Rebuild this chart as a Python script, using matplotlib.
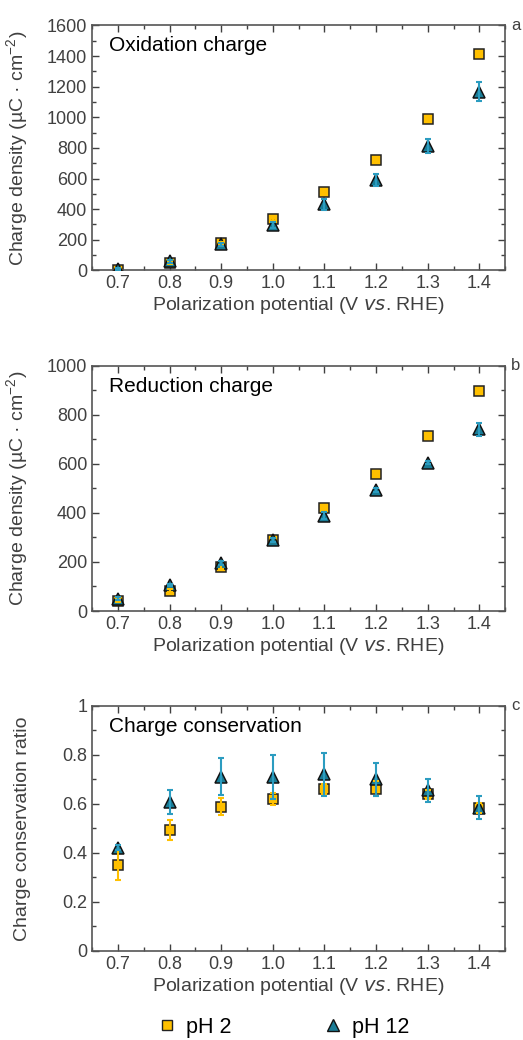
import matplotlib

matplotlib.use("Agg")
import matplotlib.pyplot as plt
from matplotlib.ticker import MultipleLocator
from matplotlib.lines import Line2D

plt.rcParams["font.family"] = ["Liberation Sans", "DejaVu Sans"]

# potentials (V vs. RHE)
potential = [0.7, 0.8, 0.9, 1.0, 1.1, 1.2, 1.3, 1.4]

# panel a : oxidation charge (uC cm-2)
ox_ph2 = [5, 50, 178, 337, 509, 718, 990, 1410]
ox_ph2_err = [5, 8, 10, 12, 12, 12, 15, 15]
ox_ph12 = [8, 60, 170, 294, 431, 592, 812, 1165]
ox_ph12_err = [8, 10, 12, 20, 35, 40, 48, 62]

# panel b : reduction charge (uC cm-2)
red_ph2 = [42, 83, 178, 291, 421, 560, 713, 898]
red_ph2_err = [5, 6, 8, 8, 10, 10, 10, 10]
red_ph12 = [51, 106, 196, 291, 389, 492, 606, 741]
red_ph12_err = [5, 6, 8, 8, 15, 8, 8, 26]

# panel c : charge conservation ratio
cons_ph2 = [0.351, 0.493, 0.588, 0.621, 0.662, 0.662, 0.639, 0.584]
cons_ph2_err = [0.062, 0.04, 0.035, 0.025, 0.02, 0.03, 0.02, 0.02]
cons_ph12 = [0.421, 0.609, 0.711, 0.711, 0.721, 0.701, 0.656, 0.584]
cons_ph12_err = [0.01, 0.05, 0.076, 0.09, 0.087, 0.068, 0.046, 0.047]

YELLOW = "#FFC000"
TEAL = "#1A7C96"
TEAL_ERR = "#2B9CC0"
GREY = "#404040"

fig = plt.figure(figsize=(5.23, 10.4), dpi=100)
left, width, height = 0.176, 0.79, 0.2356
bottoms = [0.740, 0.4125, 0.0856]

density_label = "Charge density (µC · cm$^{\\mathregular{-2}}$)"
panels = [
    (ox_ph2, ox_ph2_err, ox_ph12, ox_ph12_err, "Oxidation charge", (0, 1600), 200, 100,
     density_label, "a"),
    (red_ph2, red_ph2_err, red_ph12, red_ph12_err, "Reduction charge", (0, 1000), 200, 100,
     density_label, "b"),
    (cons_ph2, cons_ph2_err, cons_ph12, cons_ph12_err, "Charge conservation", (0, 1), 0.2, 0.1,
     "Charge conservation ratio", "c"),
]

for bottom, (y2, e2, y12, e12, title, ylim, major, minor, ylabel, tag) in zip(bottoms, panels):
    ax = fig.add_axes([left, bottom, width, height])
    ax.errorbar(potential, y2, yerr=e2, fmt="none", ecolor=YELLOW, elinewidth=1.5,
                capsize=2.5, capthick=1.5, zorder=4)
    ax.errorbar(potential, y12, yerr=e12, fmt="none", ecolor=TEAL_ERR, elinewidth=1.5,
                capsize=2.5, capthick=1.5, zorder=5)
    ax.plot(potential, y2, "s", ms=7.5, mfc=YELLOW, mec="#222222", mew=1.1,
            ls="none", zorder=2)
    ax.plot(potential, y12, "^", ms=9, mfc=TEAL, mec="#111111", mew=1.1,
            ls="none", zorder=3)

    ax.set_xlim(0.65, 1.45)
    ax.set_ylim(*ylim)
    ax.xaxis.set_minor_locator(MultipleLocator(0.05))
    ax.yaxis.set_major_locator(MultipleLocator(major))
    ax.yaxis.set_minor_locator(MultipleLocator(minor))
    ax.set_xticks(potential, [f"{p:.1f}" for p in potential])
    if tag == "c":
        ax.set_yticks([0, 0.2, 0.4, 0.6, 0.8, 1.0], ["0", "0.2", "0.4", "0.6", "0.8", "1"])
    ax.tick_params(which="both", direction="in", top=True, right=True,
                   color=GREY, labelcolor=GREY, labelsize=13)
    ax.tick_params(which="major", length=5, width=1)
    ax.tick_params(which="minor", length=3, width=1)
    for s in ax.spines.values():
        s.set_color("#555555")
        s.set_linewidth(1.2)

    ax.set_xlabel("Polarization potential (V $\\it{vs}$. RHE)", fontsize=14, color=GREY,
                  labelpad=2)
    ax.set_ylabel(ylabel, fontsize=14, color=GREY)
    ax.yaxis.set_label_coords(-0.148, 0.5)
    ax.text(0.04, 0.955, title, transform=ax.transAxes, fontsize=15, color="black",
            ha="left", va="top")
    ax.text(1.025, 1.0, tag, transform=ax.transAxes, fontsize=12, color=GREY,
            ha="center", va="center")

handles = [
    Line2D([], [], marker="s", ls="none", ms=7.5, mfc=YELLOW, mec="#222222", label="pH 2"),
    Line2D([], [], marker="^", ls="none", ms=9, mfc=TEAL, mec="#111111", label="pH 12"),
]
fig.legend(handles=handles, loc="center", bbox_to_anchor=(0.541, 0.012), ncol=2,
           frameon=False, fontsize=15.5, columnspacing=4.2, handlelength=1.0,
           handletextpad=0.4)

fig.savefig("out.png", dpi=100)
